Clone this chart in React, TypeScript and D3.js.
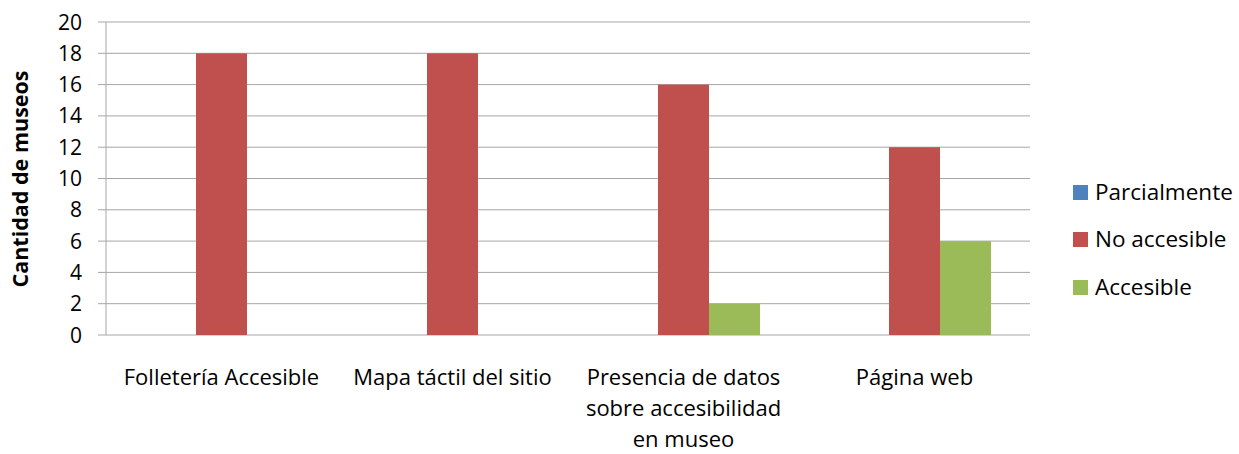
import React from "react";
import * as d3 from "d3";

const categories: string[][] = [
  ["Folletería Accesible"],
  ["Mapa táctil del sitio"],
  ["Presencia de datos", "sobre accesibilidad", "en museo"],
  ["Página web"],
];
const seriesNames = ["Parcialmente", "No accesible", "Accesible"];
const parcialmente = [0, 0, 0, 0];
const noAccesible = [18, 18, 16, 12];
const accesible = [0, 0, 2, 6];
const yTicks = [0, 2, 4, 6, 8, 10, 12, 14, 16, 18, 20];
const colors = ["#4F81BD", "#C0504D", "#9BBB59"];

export default function App() {
  const W = 1239, H = 454;
  const left = 106, right = 1030, top = 22, bottom = 335;
  const font = "'Open Sans', sans-serif";
  const x0 = d3.scaleBand().domain(d3.range(4).map(String)).range([left, right]).paddingInner(0).paddingOuter(0);
  const y = d3.scaleLinear().domain([0, 20]).range([bottom, top]);
  const bw = 51;
  const x1 = d3.scaleBand().domain(seriesNames).range([0, bw * 3]);
  const series = [parcialmente, noAccesible, accesible];

  return (
    <svg width={W} height={H} style={{ position: "absolute", left: 0, top: 0 }} fontFamily={font}>
      <rect width={W} height={H} fill="#fff" />
      {yTicks.map((t) => (
        <g key={t}>
          <line x1={left - 8} x2={right} y1={y(t)} y2={y(t)} stroke="#A6A6A6" strokeWidth={1} />
          <text x={82} y={y(t)} dy="0.36em" textAnchor="end" fontSize={21} fill="#000">{t}</text>
        </g>
      ))}
      <line x1={left} x2={left} y1={top} y2={bottom} stroke="#A6A6A6" />
      {categories.map((c, i) => {
        const gx = x0(String(i))! + x0.bandwidth() / 2 - (bw * 3) / 2;
        return (
          <g key={i}>
            {series.map((s, j) =>
              s[i] > 0 ? (
                <rect key={j} x={gx + x1(seriesNames[j])!} y={y(s[i])} width={x1.bandwidth()} height={y(0) - y(s[i])} fill={colors[j]} />
              ) : null
            )}
            <text x={x0(String(i))! + x0.bandwidth() / 2} textAnchor="middle" fontSize={22} fill="#000">
              {c.map((l, k) => (
                <tspan key={k} x={x0(String(i))! + x0.bandwidth() / 2} y={377 + k * 31} dy="0.36em">{l}</tspan>
              ))}
            </text>
          </g>
        );
      })}
      <text transform={`translate(20,179) rotate(-90)`} dy="0.36em" textAnchor="middle" fontSize={21.5} fontWeight="bold" fill="#000">Cantidad de museos</text>
      {seriesNames.map((n, j) => (
        <g key={n}>
          <rect x={1073} y={[192, 239, 287][j] - 7} width={15} height={15} fill={colors[j]} />
          <text x={1095} y={[192, 239, 287][j]} dy="0.36em" fontSize={22.5} fill="#000">{n}</text>
        </g>
      ))}
    </svg>
  );
}
